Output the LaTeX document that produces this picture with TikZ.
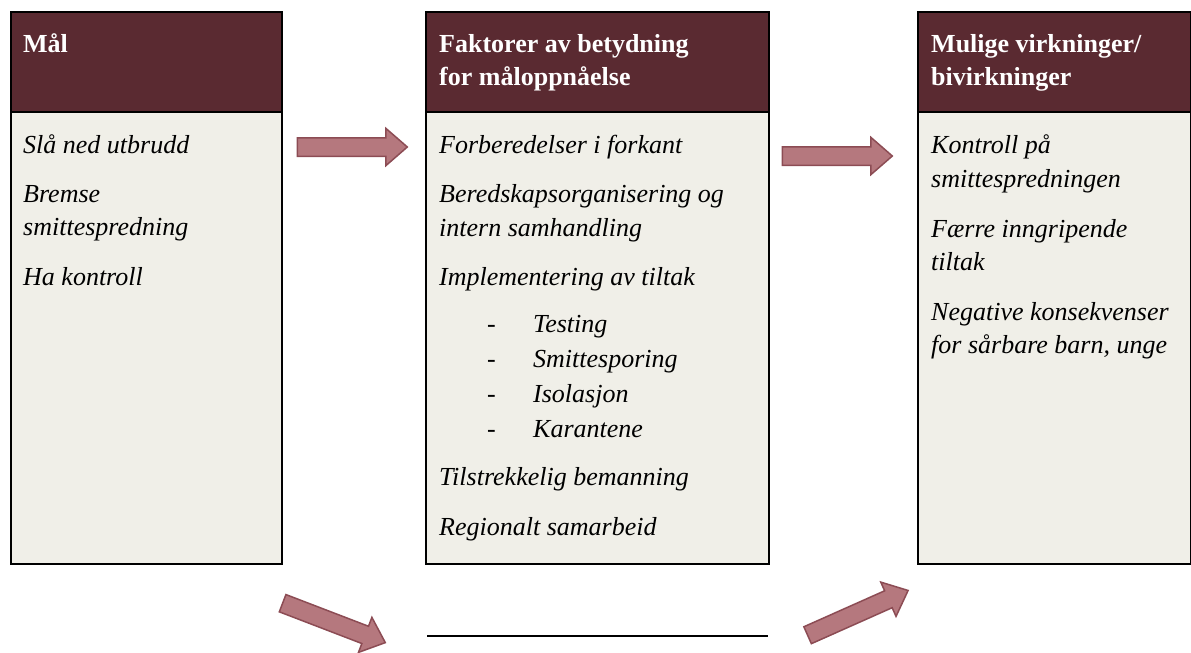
\documentclass[tikz,border=0pt]{standalone}
\usepackage{fontspec}
\setmainfont{Liberation Serif}
\usepackage{xcolor}
\usetikzlibrary{shapes.arrows}

\definecolor{headred}{HTML}{5A2A31}
\definecolor{bodygrey}{HTML}{F0EFE8}
\definecolor{arrowfill}{HTML}{B5787E}
\definecolor{arrowline}{HTML}{8C4C54}

\begin{document}
\begin{tikzpicture}[
            x = 1pt, y = -1pt, % pixel grid, y down
            headbox/.style = {draw=black, line width=2pt, fill=headred, anchor=north west, inner sep=0pt, minimum height=100pt},
            bodybox/.style = {draw=black, line width=2pt, fill=bodygrey, anchor=north west, inner sep=0pt, minimum height=452pt},
            headtext/.style = {anchor=base west, inner sep=0pt, text=white, font=\fontsize{26}{33}\selectfont\bfseries},
            bodytext/.style = {anchor=base west, inner sep=0pt, font=\fontsize{26}{33}\selectfont\itshape},
            dashtext/.style = {anchor=base west, inner sep=0pt, font=\fontsize{26}{33}\selectfont},
            blockarrow/.style = {single arrow, draw=arrowline, fill=arrowfill, line width=1.5pt,
                minimum height=110pt, inner xsep=0pt, inner ysep=8.5pt, text height=0pt, text depth=0pt,
                single arrow head extend=9.5pt, single arrow tip angle=82}
        ]
\useasboundingbox (0,0) rectangle (1191,653);

% boxes
\node[bodybox, minimum width=271pt] (malbody) at (10,111) {};
\node[headbox, minimum width=271pt] (malhead) at (10,11) {};
\node[bodybox, minimum width=343pt] (faktbody) at (425,111) {};
\node[headbox, minimum width=343pt] (fakthead) at (425,11) {};
\node[bodybox, minimum width=273pt] (virkbody) at (917,111) {};
\node[headbox, minimum width=273pt] (virkhead) at (917,11) {};

% headers
\node[headtext] (maltitle) at (23,52) {Mål};
\node[headtext] (fakttitlea) at (439,52) {Faktorer av betydning};
\node[headtext] (fakttitleb) at (439,85) {for måloppnåelse};
\node[headtext] (virktitlea) at (931,52) {Mulige virkninger/};
\node[headtext] (virktitleb) at (931,85) {bivirkninger};

% goals
\node[bodytext] (mala) at (23,153) {Slå ned utbrudd};
\node[bodytext] (malb) at (23,202) {Bremse};
\node[bodytext] (malc) at (23,235) {smittespredning};
\node[bodytext] (mald) at (23,285) {Ha kontroll};

% factors
\node[bodytext] (fakta) at (439,153) {Forberedelser i forkant};
\node[bodytext] (faktb) at (439,202) {Beredskapsorganisering og};
\node[bodytext] (faktc) at (439,236) {intern samhandling};
\node[bodytext] (faktd) at (439,285) {Implementering av tiltak};
\node[dashtext] (dasha) at (487,332) {-};
\node[bodytext] (lista) at (533,332) {Testing};
\node[dashtext] (dashb) at (487,367) {-};
\node[bodytext] (listb) at (533,367) {Smittesporing};
\node[dashtext] (dashc) at (487,402) {-};
\node[bodytext] (listc) at (533,402) {Isolasjon};
\node[dashtext] (dashd) at (487,437) {-};
\node[bodytext] (listd) at (533,437) {Karantene};
\node[bodytext] (fakte) at (439,485) {Tilstrekkelig bemanning};
\node[bodytext] (faktf) at (439,535) {Regionalt samarbeid};

% effects
\node[bodytext] (virka) at (931,153) {Kontroll på};
\node[bodytext] (virkb) at (931,187) {smittespredningen};
\node[bodytext] (virkc) at (931,237) {Færre inngripende};
\node[bodytext] (virkd) at (931,270) {tiltak};
\node[bodytext] (virke) at (931,320) {Negative konsekvenser};
\node[bodytext] (virkf) at (931,353) {for sårbare barn, unge};

% arrows
\node[blockarrow] (arrowa) at (347,147) {};
\node[blockarrow] (arrowb) at (832,156) {};
\node[blockarrow, rotate=-21] (arrowc) at (329,621) {};
\node[blockarrow, rotate=24] (arrowd) at (853,615) {};

% bottom line
\coordinate (linestart) at (427,636);
\coordinate (lineend) at (768,636);
\draw[line width=2pt] (linestart) -- (lineend);

\end{tikzpicture}
\end{document}
